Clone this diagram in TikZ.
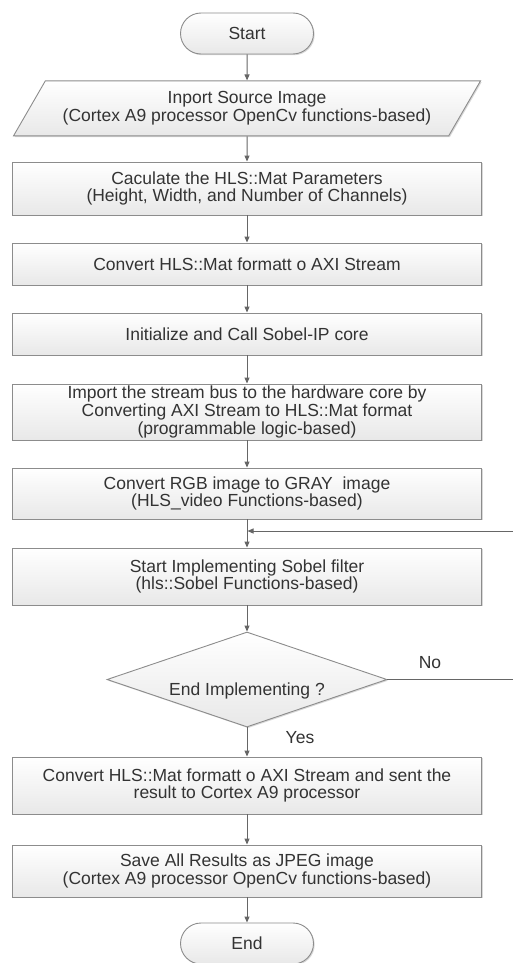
\documentclass[tikz,border=0pt]{standalone}
\usepackage{fontspec}
\setmainfont{Liberation Sans}
\usetikzlibrary{shapes.geometric,shapes.misc,arrows.meta,shadows}
\definecolor{edgegray}{HTML}{8C8C8C}
\definecolor{txtgray}{HTML}{333333}
\definecolor{linegray}{HTML}{666666}

\begin{document}
\begin{tikzpicture}[x=1pt,y=1pt,
    font=\fontsize{17.5}{17.8}\selectfont,
    common/.style={draw=edgegray, line width=0.9pt, top color=white, bottom color=gray!18,
        text=txtgray, align=center, inner sep=0pt,
        drop shadow={shadow xshift=1.2pt, shadow yshift=-1.2pt, opacity=0.3}},
    proc/.style={common, rectangle, minimum width=469pt, minimum height=#1},
    io/.style={common, trapezium, trapezium left angle=46.6, trapezium right angle=133.4,
        trapezium stretches body, minimum width=467pt, minimum height=55pt},
    term/.style={common, rounded rectangle, minimum width=133pt, minimum height=41pt},
    test/.style={common, diamond, aspect=2.95, minimum width=280pt, minimum height=95pt},
    lbl/.style={text=txtgray, inner sep=0pt},
    arr/.style={draw=linegray, line width=1pt, -{Triangle[length=6pt,width=5pt]}}]
    \useasboundingbox (0,0) rectangle (513,-963);
    % flow boxes
    \node[term] (start) at (247,-33.5) {Start};
    \node[io] (src) at (247,-108.4) {Inport Source Image\\(Cortex A9 processor OpenCv functions-based)};
    \node[proc=53pt] (calc) at (247,-188.5) {Caculate the HLS::Mat Parameters\\(Height, Width, and Number of Channels)};
    \node[proc=42pt] (toaxi) at (247,-264) {Convert HLS::Mat formatt o AXI Stream};
    \node[proc=42pt] (init) at (247,-334) {Initialize and Call Sobel-IP core};
    \node[proc=56pt] (import) at (247,-412) {Import the stream bus to the hardware core by\\Converting AXI Stream to HLS::Mat format\\(programmable logic-based)};
    \node[proc=51pt] (gray) at (247,-493.5) {Convert RGB image to GRAY~ image\\(HLS\_video Functions-based)};
    \node[proc=57pt] (sobel) at (247,-576.5) {Start Implementing Sobel filter\\(hls::Sobel Functions-based)};
    \node[test] (done) at (247,-679.5) {\raisebox{-16pt}[0pt][0pt]{End Implementing ?}};
    \node[proc=57pt] (send) at (247,-785.5) {Convert HLS::Mat formatt o AXI Stream and sent the\\result to Cortex A9 processor};
    \node[proc=52pt] (save) at (247,-871) {Save All Results as JPEG image\\(Cortex A9 processor OpenCv functions-based)};
    \node[term] (end) at (247,-943.5) {End};
    % branch labels
    \node[lbl] (no) at (430,-663) {No};
    \node[lbl] (yes) at (300,-738) {Yes};
    % connectors
    \foreach \a/\b in {start/src, src/calc, calc/toaxi, toaxi/init, init/import,
        import/gray, gray/sobel, sobel/done, done/send, send/save, save/end}
        \draw[arr] (\a.south) -- (\b.north);
    \coordinate (edge) at (525,-531);
    \coordinate (merge) at (247.5,-531);
    \draw[arr] (done.east) -| (edge) -- (merge);
\end{tikzpicture}
\end{document}
